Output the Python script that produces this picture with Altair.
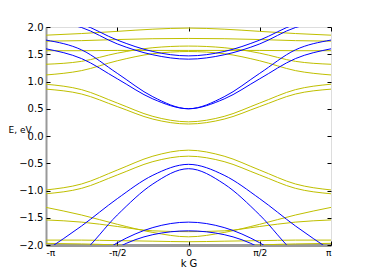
import altair as alt
import pandas as pd

# k in units of pi
K = [-1, -0.75, -0.5, -0.25, 0, 0.25, 0.5, 0.75, 1]

# blue bands
BC1 = [1.76, 1.58, 1.15, 0.72, 0.50, 0.72, 1.15, 1.58, 1.76]
BC2 = [1.60, 1.42, 1.05, 0.68, 0.50, 0.68, 1.05, 1.42, 1.60]
BU1 = [2.15, 2.05, 1.76, 1.55, 1.47, 1.55, 1.76, 2.05, 2.15]
BU2 = [2.10, 1.99, 1.69, 1.49, 1.41, 1.49, 1.69, 1.99, 2.10]
BVB = [-2.10, -1.65, -1.15, -0.72, -0.52, -0.72, -1.15, -1.65, -2.10]
BVA = [-2.50, -2.15, -1.45, -0.88, -0.60, -0.88, -1.45, -2.15, -2.50]
BL1 = [-2.60, -2.40, -1.96, -1.68, -1.58, -1.68, -1.96, -2.40, -2.60]
BL2 = [-2.70, -2.50, -2.05, -1.81, -1.74, -1.81, -2.05, -2.50, -2.70]

# yellow bands
YC1 = [0.95, 0.85, 0.605, 0.36, 0.26, 0.36, 0.605, 0.85, 0.95]
YC2 = [0.86, 0.77, 0.54, 0.31, 0.22, 0.31, 0.54, 0.77, 0.86]
YV1 = [-0.99, -0.88, -0.625, -0.37, -0.26, -0.37, -0.625, -0.88, -0.99]
YV2 = [-1.06, -0.96, -0.715, -0.47, -0.37, -0.47, -0.715, -0.96, -1.06]
YA = [-1.31, -1.45, -1.62, -1.77, -1.85, -1.77, -1.62, -1.45, -1.31]
YB = [-1.54, -1.58, -1.66, -1.74, -1.755, -1.74, -1.66, -1.58, -1.54]
YCc = [-1.91, -1.91, -1.92, -1.93, -1.94, -1.93, -1.92, -1.91, -1.91]
YD = [-1.97, -1.98, -2.00, -2.04, -2.06, -2.04, -2.00, -1.98, -1.97]
UA = [1.12, 1.20, 1.38, 1.51, 1.55, 1.51, 1.38, 1.20, 1.12]
UB = [1.316, 1.37, 1.52, 1.62, 1.65, 1.62, 1.52, 1.37, 1.316]
UC = [1.565, 1.565, 1.57, 1.57, 1.57, 1.57, 1.57, 1.565, 1.565]
UD = [1.74, 1.75, 1.77, 1.785, 1.79, 1.785, 1.77, 1.75, 1.74]
UE = [1.85, 1.88, 1.92, 1.96, 1.98, 1.96, 1.92, 1.88, 1.85]

blue = {"BC1": BC1, "BC2": BC2, "BU1": BU1, "BU2": BU2,
        "BVB": BVB, "BVA": BVA, "BL1": BL1, "BL2": BL2}
yellow = {"YC1": YC1, "YC2": YC2, "YV1": YV1, "YV2": YV2, "YA": YA,
          "YB": YB, "YCc": YCc, "YD": YD, "UA": UA, "UB": UB, "UC": UC,
          "UD": UD, "UE": UE}

XTICKS = [-1, -0.5, 0, 0.5, 1]
YTICKS = [-2, -1.5, -1, -0.5, 0, 0.5, 1, 1.5, 2]

rows = []
for fam, group in (("yellow", yellow), ("blue", blue)):
    for name, vals in group.items():
        for k, e in zip(K, vals):
            rows.append({"k": k, "E": e, "curve": name, "fam": fam})
df = pd.DataFrame(rows)

xscale = alt.Scale(domain=[-1, 1], nice=False, zero=False)
yscale = alt.Scale(domain=[-2, 2], nice=False, zero=False)
label_expr = ("datum.value == -1 ? '-π' : datum.value == -0.5 ? '-π/2' : "
              "datum.value == 0 ? '0' : datum.value == 0.5 ? 'π/2' : 'π'")

lines = alt.Chart(df).mark_line(strokeWidth=1, interpolate="monotone", clip=True).encode(
    x=alt.X("k:Q", scale=xscale,
            axis=alt.Axis(orient="bottom", values=XTICKS, labelExpr=label_expr,
                          title="k G", ticks=False, domainColor="#999999",
                          domainWidth=3, labelFontSize=9, labelPadding=3,
                          labelColor="black", titleFontSize=10, titleFontWeight="normal",
                          titleColor="black", titleY=21, titleBaseline="alphabetic",
                          grid=False, labelFont="DejaVu Sans", titleFont="DejaVu Sans")),
    y=alt.Y("E:Q", scale=yscale,
            axis=alt.Axis(orient="left", values=YTICKS, format=".1f", title="E, eV",
                          ticks=False, domainColor="#999999", domainWidth=2,
                          labelFontSize=10, labelPadding=3, labelColor="black",
                          titleAngle=0, titleAlign="left", titleBaseline="middle",
                          titleX=-38, titleY=102, titleFontSize=9,
                          titleFontWeight="normal", titleColor="black",
                          grid=False, labelFont="DejaVu Sans", titleFont="DejaVu Sans")),
    color=alt.Color("fam:N", scale=alt.Scale(domain=["blue", "yellow"],
                                             range=["#0000ff", "#bfbf00"]), legend=None),
    detail="curve:N",
)

ticks_tr = alt.Chart(df).mark_point(opacity=0).encode(
    x=alt.X("k:Q", scale=xscale,
            axis=alt.Axis(orient="top", values=XTICKS, labels=False, domain=False,
                          tickSize=4, offset=-4, tickColor="black", title=None, grid=False)),
    y=alt.Y("E:Q", scale=yscale,
            axis=alt.Axis(orient="right", values=YTICKS, labels=False, domain=False,
                          tickSize=4, offset=-4, tickColor="black", title=None, grid=False)),
)

ticks_bl = alt.Chart(df).mark_point(opacity=0).encode(
    x=alt.X("k:Q", scale=xscale,
            axis=alt.Axis(orient="bottom", values=XTICKS, labels=False, domain=False,
                          tickSize=4, offset=-4, tickColor="black", title=None, grid=False)),
    y=alt.Y("E:Q", scale=yscale,
            axis=alt.Axis(orient="left", values=YTICKS, labels=False, domain=False,
                          tickSize=4, offset=-4, tickColor="black", title=None, grid=False)),
)

chart = alt.layer(lines, ticks_tr, ticks_bl).resolve_axis(
    x="independent", y="independent"
).properties(
    width=285, height=218,
    autosize=alt.AutoSizeParams(type="none"),
    padding={"left": 38, "top": 19, "right": 20, "bottom": 22},
).configure_view(stroke="black", strokeWidth=1).configure(background="white")

chart.save("out.html", embed_options={"renderer": "svg", "actions": False})
